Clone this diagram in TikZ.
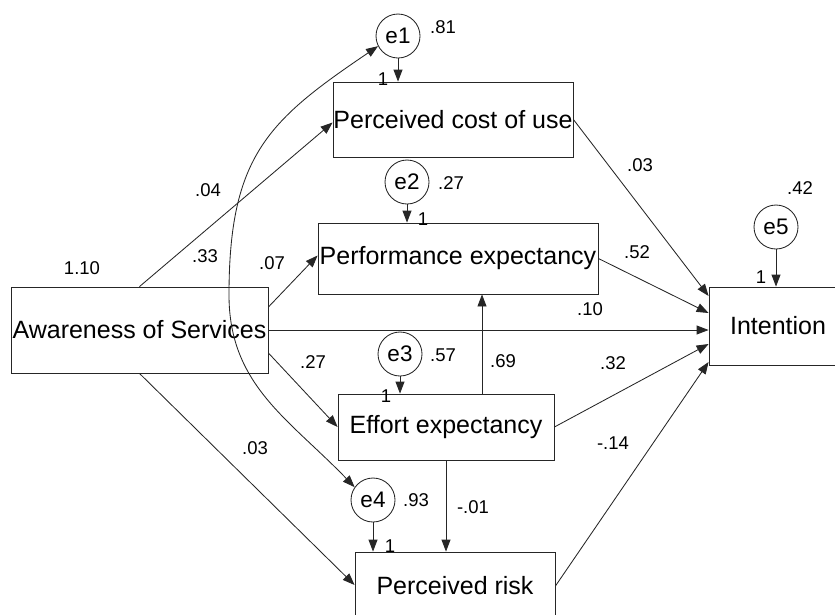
\documentclass[tikz,border=0pt]{standalone}
\usepackage{fontspec}
\setmainfont{Liberation Sans}
\usetikzlibrary{arrows.meta}
\begin{document}
\begin{tikzpicture}[x=1pt,y=-1pt,
  box/.style={draw=black!85, line width=0.85pt, inner sep=0pt,
    font=\fontsize{25}{28}\selectfont},
  err/.style={circle, draw=black!85, line width=0.85pt, minimum size=44pt,
    inner sep=0pt, font=\fontsize{22.5}{26}\selectfont},
  lab/.style={font=\fontsize{18.5}{22}\selectfont, inner sep=0pt},
  tip/.style={Triangle[length=12pt,width=9pt]},
  arr/.style={-{Triangle[length=12pt,width=9pt]}, line width=0.85pt, draw=black!85},
  dblarr/.style={{Triangle[length=12pt,width=9pt]}-{Triangle[length=12pt,width=9pt]},
    line width=0.85pt, draw=black!85},
]
\clip (0,0) rectangle (835,614);

% observed variables
\node[box, minimum width=240pt, minimum height=75pt] (pcu) at (453,119.5) {Perceived cost of use};
\node[box, minimum width=280pt, minimum height=71pt] (pe) at (458,258.5) {Performance expectancy};
\node[box, minimum width=257pt, minimum height=86pt] (aos) at (139.5,330) {Awareness of Services};
\node[box, minimum width=138pt, minimum height=78pt] (int) at (778,326) {Intention};
\node[box, minimum width=216pt, minimum height=66pt] (ee) at (446,427) {Effort expectancy};
\node[box, minimum width=200pt, minimum height=68pt] (pr) at (455,586) {Perceived risk};

% error terms
\node[err] (e1) at (398,36) {e1};
\node[err] (e2) at (407,182) {e2};
\node[err] (e3) at (400,354) {e3};
\node[err] (e4) at (373,500) {e4};
\node[err] (e5) at (776,227) {e5};

% error paths
\draw[arr] (e1.south) -- (e1 |- pcu.north);
\draw[arr] (e2.south) -- (e2 |- pe.north);
\draw[arr] (e3.south) -- (e3 |- ee.north);
\draw[arr] (e4.south) -- (e4 |- pr.north);
\draw[arr] (e5.south) -- (e5 |- int.north);

% structural paths
\draw[arr] (aos.north) -- ([yshift=-3pt]pcu.west);
\draw[arr] ([yshift=23pt]aos.east) -- ([yshift=3pt]pe.west);
\draw[arr] (aos.east) -- ([yshift=-4pt]int.west);
\draw[arr] ([yshift=-23pt]aos.east) -- (ee.west);
\draw[arr] (aos.south) -- ([yshift=1pt]pr.west);

\draw[arr] (pcu.east) -- ([yshift=30pt]int.west);
\draw[arr] (pe.east) -- ([yshift=13pt]int.west);
\draw[arr] (ee.east) -- ([yshift=-18pt]int.west);
\draw[arr] (pr.east) -- ([yshift=-36pt]int.west);

\draw[arr] ([xshift=36pt]ee.north) -- ([xshift=36pt]ee.north |- pe.south);
\draw[arr] (ee.south) -- (ee.south |- pr.north);

% covariance between e1 and e4
\coordinate (bend) at (229,295);
\draw[dblarr] (e1.207) .. controls (269,120) and (229,155) .. (bend)
  .. controls (229,385) and (289,419) .. (e4.145);

% estimates
\node[lab] at (82,268) {1.10};
\node[lab] at (443,27) {.81};
\node[lab] at (451,183) {.27};
\node[lab] at (443,355) {.57};
\node[lab] at (416,500) {.93};
\node[lab] at (800,188) {.42};

\node[lab] at (208,190) {.04};
\node[lab] at (205,256) {.33};
\node[lab] at (272,263) {.07};
\node[lab] at (590,309) {.10};
\node[lab] at (313,362) {.27};
\node[lab] at (255,448) {.03};
\node[lab] at (640,165) {.03};
\node[lab] at (637,252) {.52};
\node[lab] at (503,361) {.69};
\node[lab] at (613,363) {.32};
\node[lab] at (613,443) {-.14};
\node[lab] at (473,507) {-.01};

% fixed regression weights
\node[lab] at (383,79) {1};
\node[lab] at (423,219) {1};
\node[lab] at (386,396) {1};
\node[lab] at (390,546) {1};
\node[lab] at (761,277) {1};
\end{tikzpicture}
\end{document}
